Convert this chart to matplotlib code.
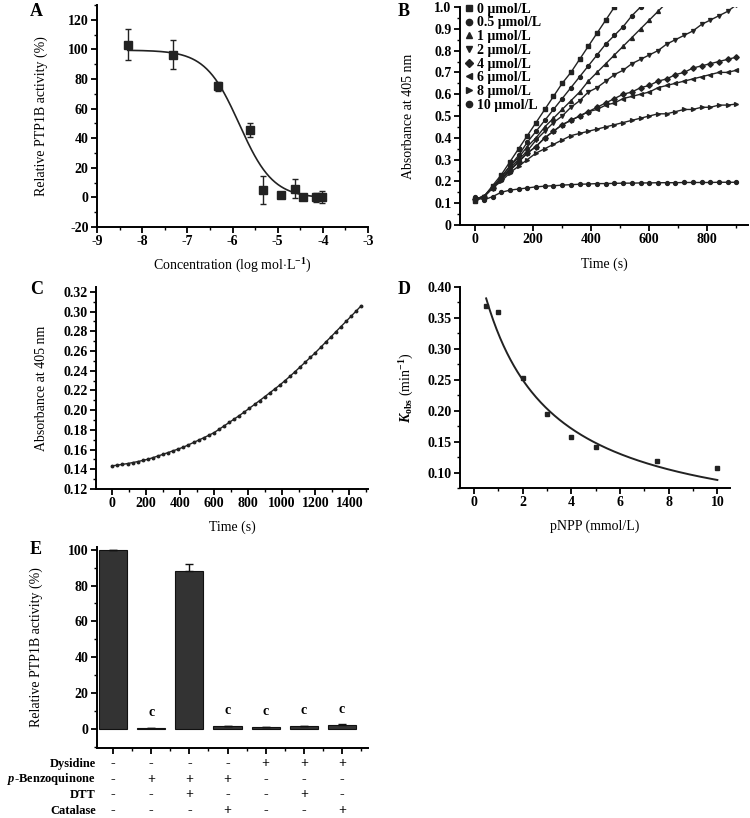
import matplotlib
matplotlib.use("Agg")
import matplotlib.pyplot as plt
import numpy as np
from matplotlib.ticker import MultipleLocator, FormatStrFormatter

plt.rcParams['font.family'] = ['Liberation Serif', 'DejaVu Serif']
plt.rcParams['font.weight'] = 'bold'
plt.rcParams['font.size'] = 10
plt.rcParams['axes.unicode_minus'] = False
plt.rcParams['mathtext.fontset'] = 'custom'
plt.rcParams['mathtext.rm'] = 'Liberation Serif:bold'
plt.rcParams['mathtext.it'] = 'Liberation Serif:italic:bold'
plt.rcParams['mathtext.bf'] = 'Liberation Serif:bold'

# ---- panel A: dose response
a_logc = [-8.32, -7.31, -6.32, -5.61, -5.32, -4.93, -4.62, -4.45, -4.15, -4.02]
a_act = [103.0, 96.5, 75.0, 45.5, 5.0, 1.8, 6.0, 0.2, 0.0, 0.2]
a_err = [10.5, 9.6, 3.0, 4.5, 9.6, 1.5, 6.5, 1.0, 3.2, 4.0]
a_fit = dict(top=99.5, bottom=-0.5, logic50=-5.85, hill=1.16)

# ---- panel B: absorbance vs time for each dysidine level
b_labels = ['0 μmol/L', '0.5 μmol/L', '1 μmol/L', '2 μmol/L',
            '4 μmol/L', '6 μmol/L', '8 μmol/L', '10 μmol/L']
b_markers = ['s', 'o', '^', 'v', 'D', '<', '>', 'o']
b_time = [0, 30, 60, 90, 120, 150, 180, 210, 240, 270, 300, 330, 360, 390, 420,
          450, 480, 510, 540, 570, 600, 630, 660, 690, 720, 750, 780, 810, 840, 870, 900]
b_0 = [0.11, 0.13, 0.18, 0.23, 0.29, 0.35, 0.41, 0.47, 0.53, 0.59, 0.65, 0.70,
       0.76, 0.82, 0.88, 0.94, 1.00, 1.06]
b_05 = [0.12, 0.13, 0.17, 0.22, 0.27, 0.32, 0.38, 0.43, 0.48, 0.53, 0.58, 0.63,
        0.68, 0.73, 0.78, 0.83, 0.87, 0.91, 0.96, 1.00, 1.04]
b_1 = [0.12, 0.13, 0.17, 0.22, 0.27, 0.31, 0.36, 0.40, 0.45, 0.49, 0.53, 0.57,
       0.61, 0.66, 0.70, 0.74, 0.78, 0.82, 0.86, 0.90, 0.94, 0.98, 1.02]
b_2 = [0.11, 0.13, 0.17, 0.21, 0.26, 0.30, 0.34, 0.39, 0.43, 0.47, 0.50, 0.54,
       0.57, 0.61, 0.63, 0.66, 0.69, 0.71, 0.74, 0.76, 0.78, 0.80, 0.83, 0.85,
       0.87, 0.89, 0.92, 0.94, 0.96, 0.98, 1.01]
b_4 = [0.12, 0.13, 0.17, 0.21, 0.25, 0.29, 0.33, 0.36, 0.40, 0.43, 0.46, 0.48,
       0.50, 0.52, 0.54, 0.56, 0.58, 0.60, 0.61, 0.63, 0.64, 0.66, 0.67, 0.69,
       0.70, 0.72, 0.73, 0.74, 0.75, 0.76, 0.77]
b_6 = [0.12, 0.13, 0.17, 0.21, 0.25, 0.29, 0.33, 0.36, 0.40, 0.43, 0.46, 0.48,
       0.50, 0.52, 0.53, 0.55, 0.56, 0.58, 0.59, 0.60, 0.61, 0.63, 0.64, 0.65,
       0.66, 0.67, 0.68, 0.69, 0.70, 0.70, 0.71]
b_8 = [0.12, 0.13, 0.17, 0.20, 0.24, 0.27, 0.30, 0.33, 0.35, 0.37, 0.39, 0.41,
       0.42, 0.43, 0.44, 0.45, 0.46, 0.47, 0.48, 0.49, 0.50, 0.51, 0.51, 0.52,
       0.53, 0.53, 0.54, 0.54, 0.55, 0.55, 0.555]
b_10 = [0.13, 0.115, 0.13, 0.15, 0.16, 0.165, 0.17, 0.175, 0.178, 0.18, 0.183,
        0.185, 0.187, 0.188, 0.19, 0.19, 0.191, 0.192, 0.192, 0.193, 0.193,
        0.194, 0.194, 0.194, 0.195, 0.195, 0.195, 0.195, 0.196, 0.196, 0.196]
b_series = [b_0, b_05, b_1, b_2, b_4, b_6, b_8, b_10]

# ---- panel C: single progress curve
c_time = [0, 30, 60, 90, 120, 150, 180, 210, 240, 270, 300, 330, 360, 390, 420,
          450, 480, 510, 540, 570, 600, 630, 660, 690, 720, 750, 780, 810, 840,
          870, 900, 930, 960, 990, 1020, 1050, 1080, 1110, 1140, 1170, 1200,
          1230, 1260, 1290, 1320, 1350, 1380, 1410, 1440, 1470]
c_abs = [0.1435, 0.1442, 0.1450, 0.1458, 0.1468, 0.1478, 0.1490, 0.1502, 0.1518,
         0.1535, 0.1552, 0.1570, 0.1588, 0.1606, 0.1625, 0.1648, 0.1672, 0.1696,
         0.1720, 0.1745, 0.1771, 0.1805, 0.1840, 0.1875, 0.1910, 0.1945, 0.1982,
         0.2020, 0.2058, 0.2097, 0.2136, 0.2176, 0.2216, 0.2256, 0.2300, 0.2345,
         0.2392, 0.2440, 0.2488, 0.2536, 0.2585, 0.2637, 0.2690, 0.2742, 0.2795,
         0.2848, 0.2900, 0.2953, 0.3006, 0.3060]

# ---- panel D: kobs vs pNPP
d_pnpp = [0.5, 1, 2, 3, 4, 5, 7.5, 10]
d_kobs = [0.370, 0.360, 0.253, 0.195, 0.157, 0.142, 0.118, 0.108]
d_fit = dict(a=1.086, b=2.346)

# ---- panel E: bars with treatment table
e_act = [100, 0.5, 88.3, 1.5, 0.9, 1.5, 2.4]
e_err = [0, 0.2, 3.7, 0.3, 0.2, 0.2, 0.3]
e_sig = ['', 'c', '', 'c', 'c', 'c', 'c']
e_rows = ['Dysidine', '$p$-Benzoquinone', 'DTT', 'Catalase']
e_dysidine = ['-', '-', '-', '-', '+', '+', '+']
e_benzo = ['-', '+', '+', '+', '-', '-', '-']
e_dtt = ['-', '-', '+', '-', '-', '+', '-']
e_catalase = ['-', '-', '-', '+', '-', '-', '+']

W, H = 750, 818
fig = plt.figure(figsize=(W / 100, H / 100), dpi=100)
ink = '#222222'


def box(l, t, r, b):
    return [l / W, 1 - b / H, (r - l) / W, (b - t) / H]


def style(ax):
    for s in ['top', 'right']:
        ax.spines[s].set_visible(False)
    for s in ['left', 'bottom']:
        ax.spines[s].set_linewidth(1.4)
    ax.tick_params(which='major', direction='out', length=4, width=1.3, pad=2)
    ax.tick_params(which='minor', direction='out', length=2.5, width=1.0)


# A
ax = fig.add_axes(box(97, 5, 368, 227))
ax.errorbar(a_logc, a_act, yerr=a_err, fmt='s', color=ink, ms=5.5,
            capsize=2.5, elinewidth=1, capthick=1)
xs = np.linspace(a_logc[0], a_logc[-1], 200)
ys = a_fit['bottom'] + (a_fit['top'] - a_fit['bottom']) / (
    1 + 10 ** ((xs - a_fit['logic50']) * a_fit['hill']))
ax.plot(xs, ys, color=ink, lw=1.2)
ax.set_xlim(-9, -3)
ax.set_ylim(-20, 130)
ax.set_yticks(range(-20, 121, 20))
ax.xaxis.set_minor_locator(MultipleLocator(0.5))
ax.yaxis.set_minor_locator(MultipleLocator(10))
ax.set_xlabel(r'Concentration (log mol$\cdot$L$^{-1}$)', labelpad=6)
ax.set_ylabel('Relative PTP1B activity (%)', labelpad=14)
style(ax)
fig.text(30 / W, 1 - 11 / H, 'A', fontsize=13, va='center')

# B
ax = fig.add_axes(box(460, 7, 748, 225))
for vals, lab, mk in zip(b_series, b_labels, b_markers):
    ax.plot(b_time[:len(vals)], vals, color=ink, lw=1.0, marker=mk,
            ms=2.8, label=lab)
ax.set_xlim(-52, 940)
ax.set_ylim(0, 1.0)
ax.set_xticks([0, 200, 400, 600, 800])
ax.set_yticks([0, 0.1, 0.2, 0.3, 0.4, 0.5, 0.6, 0.7, 0.8, 0.9, 1.0])
ax.set_yticklabels(['0', '0.1', '0.2', '0.3', '0.4', '0.5', '0.6', '0.7',
                    '0.8', '0.9', '1.0'])
ax.xaxis.set_minor_locator(MultipleLocator(100))
ax.yaxis.set_minor_locator(MultipleLocator(0.05))
ax.set_xlabel('Time (s)', labelpad=8)
ax.set_ylabel('Absorbance at 405 nm', labelpad=14)
style(ax)
leg = ax.legend(loc='upper left', bbox_to_anchor=(0.0, 1.045), frameon=False,
                handlelength=0.5, handletextpad=0.35, labelspacing=0.05,
                borderaxespad=0, fontsize=10)
for h in leg.legend_handles:
    h.set_linestyle('none')
    h.set_markersize(4.5)
fig.text(398 / W, 1 - 11 / H, 'B', fontsize=13, va='center')

# C
ax = fig.add_axes(box(96, 287, 368, 489))
ax.plot(c_time, c_abs, color=ink, lw=1.0, marker='o', ms=1.8)
ax.set_xlim(-96, 1510)
ax.set_ylim(0.12, 0.325)
ax.set_xticks(range(0, 1401, 200))
ax.set_yticks(np.arange(0.12, 0.321, 0.02))
ax.yaxis.set_major_formatter(FormatStrFormatter('%.2f'))
ax.xaxis.set_minor_locator(MultipleLocator(100))
ax.yaxis.set_minor_locator(MultipleLocator(0.01))
ax.set_xlabel('Time (s)', labelpad=7)
ax.set_ylabel('Absorbance at 405 nm', labelpad=11)
style(ax)
fig.text(30 / W, 1 - 290 / H, 'C', fontsize=13, va='center')

# D
ax = fig.add_axes(box(460, 287, 730, 488))
ax.plot(d_pnpp, d_kobs, 's', color=ink, ms=3.5)
xs = np.linspace(d_pnpp[0], d_pnpp[-1], 200)
ax.plot(xs, d_fit['a'] / (d_fit['b'] + xs), color=ink, lw=1.4)
ax.set_xlim(-0.575, 10.52)
ax.set_ylim(0.075, 0.40)
ax.set_xticks([0, 2, 4, 6, 8, 10])
ax.set_yticks([0.10, 0.15, 0.20, 0.25, 0.30, 0.35, 0.40])
ax.yaxis.set_major_formatter(FormatStrFormatter('%.2f'))
ax.xaxis.set_minor_locator(MultipleLocator(1))
ax.yaxis.set_minor_locator(MultipleLocator(0.025))
ax.set_xlabel('pNPP (mmol/L)', labelpad=7)
ax.set_ylabel(r'$K_{\rm obs}$ (min$^{-1}$)', labelpad=8)
style(ax)
fig.text(398 / W, 1 - 290 / H, 'D', fontsize=13, va='center')

# E
ax = fig.add_axes(box(97, 547, 368, 748))
xpos = np.arange(len(e_act))
ax.bar(xpos, e_act, width=0.74, color='#333333', edgecolor='#111111', lw=0.8)
ax.errorbar(xpos, e_act, yerr=[np.zeros(len(e_err)), e_err], fmt='none',
            ecolor='#111111', capsize=3, elinewidth=1, capthick=1)
for x, v, s in zip(xpos, e_act, e_sig):
    if s:
        ax.text(x, v + 5, s, ha='center', va='bottom', fontsize=10)
ax.set_xlim(-0.42, 6.68)
ax.set_ylim(-10.6, 101.5)
ax.set_yticks(range(0, 101, 20))
ax.set_xticks(xpos)
ax.set_xticklabels([])
ax.xaxis.set_minor_locator(MultipleLocator(0.5))
ax.yaxis.set_minor_locator(MultipleLocator(10))
ax.set_ylabel('Relative PTP1B activity (%)', labelpad=18)
style(ax)
table = [e_dysidine, e_benzo, e_dtt, e_catalase]
row_y = [-0.078, -0.155, -0.233, -0.312]
for name, signs, yy in zip(e_rows, table, row_y):
    ax.text(-0.005, yy, name, transform=ax.transAxes, ha='right', va='center',
            fontsize=9, clip_on=False)
    for x, sg in zip(xpos, signs):
        ax.text(x, yy, sg, transform=ax.get_xaxis_transform(), ha='center',
                va='center', fontsize=10, clip_on=False)
fig.text(30 / W, 1 - 550 / H, 'E', fontsize=13, va='center')

fig.savefig('out.png', dpi=100)
